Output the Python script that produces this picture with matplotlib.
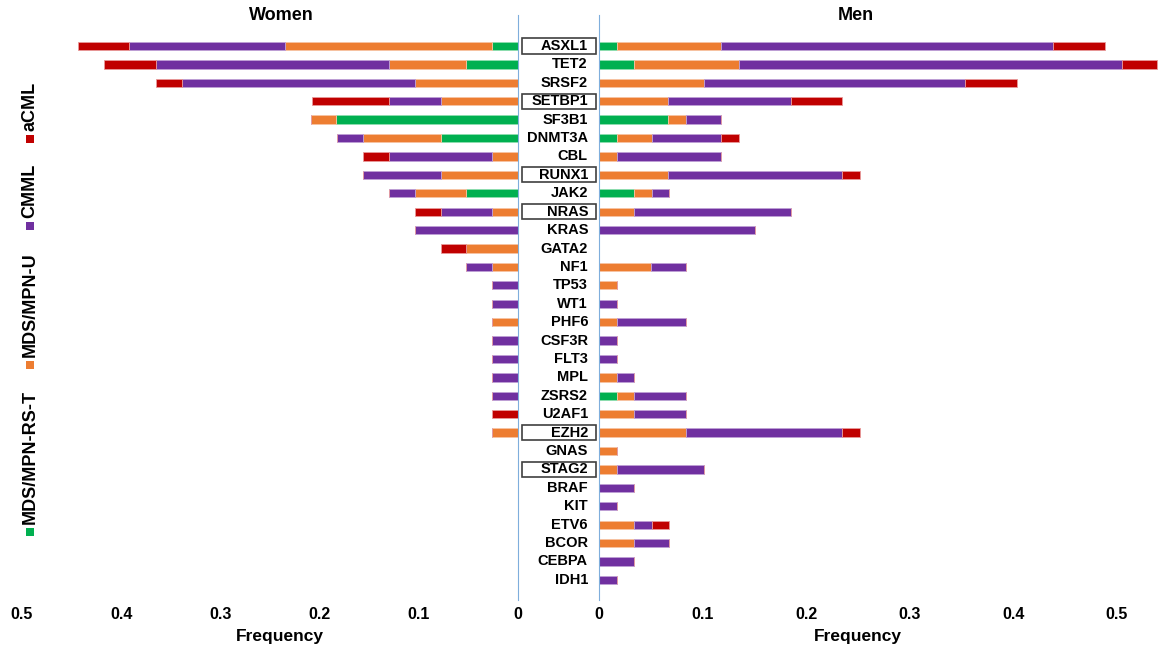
import matplotlib
matplotlib.use("Agg")
import matplotlib.pyplot as plt
import matplotlib.patches as patches
import matplotlib.transforms as mtransforms
from matplotlib.ticker import FuncFormatter
import numpy as np

plt.rcParams['font.family'] = ['Liberation Sans', 'DejaVu Sans']
plt.rcParams['font.weight'] = 'bold'

genes = ["ASXL1", "TET2", "SRSF2", "SETBP1", "SF3B1", "DNMT3A", "CBL", "RUNX1",
         "JAK2", "NRAS", "KRAS", "GATA2", "NF1", "TP53", "WT1", "PHF6", "CSF3R",
         "FLT3", "MPL", "ZSRS2", "U2AF1", "EZH2", "GNAS", "STAG2", "BRAF", "KIT",
         "ETV6", "BCOR", "CEBPA", "IDH1"]
boxed_genes = ["ASXL1", "SETBP1", "RUNX1", "NRAS", "EZH2", "STAG2"]

groups = ["MDS/MPN-RS-T", "MDS/MPN-U", "CMML", "aCML"]

# frequencies, one list per subtype
women_rst = [0.026, 0.052, 0, 0, 0.183, 0.078, 0, 0, 0.052, 0, 0, 0, 0, 0, 0,
             0, 0, 0, 0, 0, 0, 0, 0, 0, 0, 0, 0, 0, 0, 0]
women_u = [0.209, 0.078, 0.104, 0.078, 0.026, 0.078, 0.026, 0.078, 0.052, 0.026,
           0, 0.052, 0.026, 0, 0, 0.026, 0, 0, 0, 0, 0, 0.026, 0, 0, 0, 0, 0, 0, 0, 0]
women_cmml = [0.157, 0.235, 0.235, 0.052, 0, 0.026, 0.104, 0.078, 0.026, 0.052,
              0.104, 0, 0.026, 0.026, 0.026, 0, 0.026, 0.026, 0.026, 0.026, 0, 0,
              0, 0, 0, 0, 0, 0, 0, 0]
women_acml = [0.052, 0.052, 0.026, 0.078, 0, 0, 0.026, 0, 0, 0.026, 0, 0.026, 0,
              0, 0, 0, 0, 0, 0, 0, 0.026, 0, 0, 0, 0, 0, 0, 0, 0, 0]

men_rst = [0.017, 0.034, 0, 0, 0.067, 0.017, 0, 0, 0.034, 0, 0, 0, 0, 0, 0, 0,
           0, 0, 0, 0.017, 0, 0, 0, 0, 0, 0, 0, 0, 0, 0]
men_u = [0.101, 0.101, 0.101, 0.067, 0.017, 0.034, 0.017, 0.067, 0.017, 0.034,
         0, 0, 0.050, 0.017, 0, 0.017, 0, 0, 0.017, 0.017, 0.034, 0.084, 0.017,
         0.017, 0, 0, 0.034, 0.034, 0, 0]
men_cmml = [0.320, 0.370, 0.252, 0.118, 0.034, 0.067, 0.101, 0.168, 0.017, 0.151,
            0.151, 0, 0.034, 0, 0.017, 0.067, 0.017, 0.017, 0.017, 0.050, 0.050,
            0.151, 0, 0.084, 0.034, 0.017, 0.017, 0.034, 0.034, 0.017]
men_acml = [0.050, 0.034, 0.050, 0.050, 0, 0.017, 0, 0.017, 0, 0, 0, 0, 0, 0, 0,
            0, 0, 0, 0, 0, 0, 0.017, 0, 0, 0, 0, 0.017, 0, 0, 0]

colors = ['#00B050', '#ED7D31', '#7030A0', '#C00000']
edge_colors = ['#8FDDB0', '#F7C4A4', '#BFA0D6', '#E89A9A']

W, H = 1162, 656
fig = plt.figure(figsize=(W / 100, H / 100), dpi=100)


def fx(x):
	return x / W


def fy(y):
	return 1 - y / H


# axes frames in pixels (top 15, bottom 600)
top_px, bot_px = 15, 600
ax_w = fig.add_axes([fx(22), fy(bot_px), fx(518 - 22), (bot_px - top_px) / H])
ax_m = fig.add_axes([fx(599), fy(bot_px), fx(W - 599), (bot_px - top_px) / H])

row0, row_step = 46, 18.41
y = np.arange(len(genes))
ylim = ((bot_px - row0) / row_step, (top_px - row0) / row_step)
bar_h = 0.45

for ax, series, xlim in [
		(ax_w, [women_rst, women_u, women_cmml, women_acml], (0.5, 0)),
		(ax_m, [men_rst, men_u, men_cmml, men_acml], (0, (W - 599) / 1036)),
	]:
	left = np.zeros(len(genes))
	for vals, c, ec in zip(series, colors, edge_colors):
		vals = np.array(vals, dtype=float)
		ax.barh(y, vals, left=left, height=bar_h, color=c,
			edgecolor=ec, linewidth=0.6)
		left += vals
	ax.set_xlim(*xlim)
	ax.set_ylim(*ylim)
	ax.set_yticks([])
	ax.set_xticks([0, 0.1, 0.2, 0.3, 0.4, 0.5])
	ax.xaxis.set_major_formatter(FuncFormatter(lambda v, p: "0" if v == 0 else "%.1f" % v))
	ax.tick_params(axis='x', length=0, pad=5, labelsize=11.5)
	for s in ax.spines.values():
		s.set_visible(False)
	ax.set_facecolor('none')

ax_w.spines['right'].set_visible(True)
ax_w.spines['right'].set_color('#7FAEDC')
ax_m.spines['left'].set_visible(True)
ax_m.spines['left'].set_color('#7FAEDC')

# gene labels in the gap between the two panels
trans = mtransforms.blended_transform_factory(fig.transFigure, ax_m.transData)
for i, g in enumerate(genes):
	ax_m.text(fx(588), i, g, transform=trans, ha='right', va='center',
		fontsize=10.5, fontweight='bold', clip_on=False)
	if g in boxed_genes:
		rect = patches.Rectangle((fx(522), i - 0.41), fx(74), 0.82, transform=trans,
			fill=False, edgecolor='#404040', linewidth=1.2, clip_on=False)
		ax_m.add_patch(rect)

# titles and axis labels
fig.text(fx(281), fy(16), "Women", ha='center', va='center', fontsize=13, fontweight='bold')
fig.text(fx(856), fy(16), "Men", ha='center', va='center', fontsize=13, fontweight='bold')
fig.text(fx(280), fy(637), "Frequency", ha='center', va='center', fontsize=12.5, fontweight='bold')
fig.text(fx(858), fy(637), "Frequency", ha='center', va='center', fontsize=12.5, fontweight='bold')

# vertical legend on the left
legend_sq_y = [532, 365, 226, 139]
for label, c, sy in zip(groups, colors, legend_sq_y):
	sq = 8
	fig.patches.append(patches.Rectangle((fx(30 - sq / 2), fy(sy + sq / 2)), fx(sq), sq / H,
		transform=fig.transFigure, facecolor=c, edgecolor='none'))
	fig.text(fx(30), fy(sy - 8), label, rotation=90, ha='center', va='bottom',
		fontsize=13, fontweight='bold')

fig.savefig("out.png", dpi=100)
plt.close("all")
